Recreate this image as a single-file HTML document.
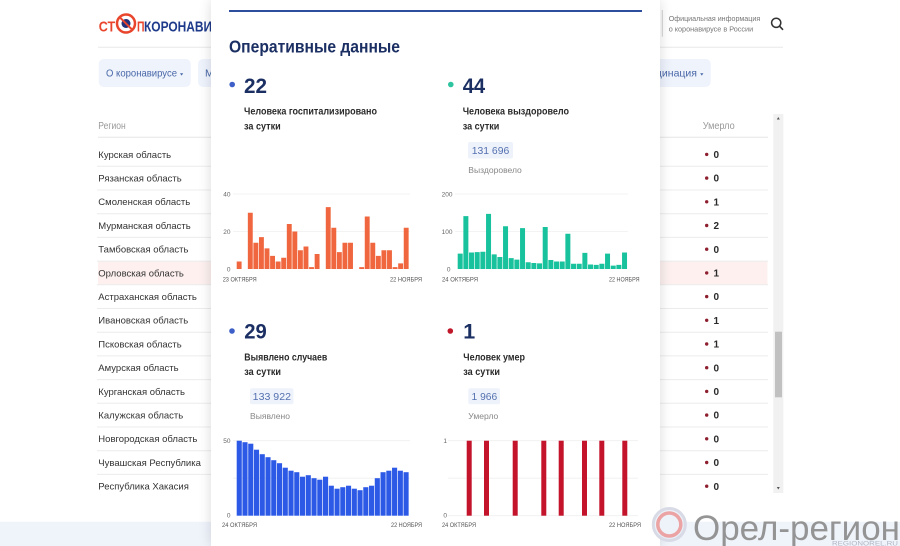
<!DOCTYPE html>
<html><head><meta charset="utf-8">
<style>
html,body{margin:0;padding:0;width:900px;height:546px;max-height:546px;overflow:hidden;background:#fff;font-family:"Liberation Sans",sans-serif}
#wrap{position:relative;width:900px;height:546px;overflow:hidden}
svg{position:absolute;left:0;top:0}
text{font-family:"Liberation Sans",sans-serif}
#modal{position:absolute;left:211px;top:0;width:449px;height:546px;background:#fff;box-shadow:0 0 12px rgba(0,0,0,0.14)}
</style></head><body><div id="wrap">
<svg width="900" height="546">
  <rect x="0" y="521.7" width="900" height="25" fill="#eff3fa"/>
  <text x="98.7" y="31.7" font-size="15" font-weight="bold" fill="#e8452c" textLength="16.5" lengthAdjust="spacingAndGlyphs">СТ</text>
  <circle cx="126" cy="23.5" r="9" fill="#fff" stroke="#e8452c" stroke-width="2.5"/>
  <circle cx="126" cy="23.5" r="4.5" fill="#24317a"/>
  <line x1="120" y1="17.5" x2="132" y2="29.5" stroke="#e8452c" stroke-width="2"/>
  <text x="137" y="31.7" font-size="15" font-weight="bold" fill="#e8452c" textLength="7.5" lengthAdjust="spacingAndGlyphs">П</text>
  <text x="144" y="31.7" font-size="15" font-weight="bold" fill="#1e3a8a" textLength="92" lengthAdjust="spacingAndGlyphs">КОРОНАВИРУС</text>
  <line x1="662.3" y1="10" x2="662.3" y2="36.7" stroke="#cfcfcf" stroke-width="1"/>
  <text x="668.7" y="21" font-size="7.6" fill="#777" textLength="91.5" lengthAdjust="spacingAndGlyphs">Официальная информация</text>
  <text x="668.7" y="31.5" font-size="7.6" fill="#777" textLength="84.5" lengthAdjust="spacingAndGlyphs">о коронавирусе в России</text>
  <circle cx="776.2" cy="22.8" r="4.6" fill="none" stroke="#333" stroke-width="1.5"/>
  <line x1="779.6" y1="26.2" x2="783" y2="29.8" stroke="#333" stroke-width="1.6"/>
  <line x1="98" y1="47.2" x2="783" y2="47.2" stroke="#e8e8e8" stroke-width="1"/>
  <rect x="98.7" y="59" width="92" height="28" rx="5" fill="#eef3fc"/>
  <text x="106" y="76.4" font-size="10.5" fill="#4a68a8" textLength="71" lengthAdjust="spacingAndGlyphs">О коронавирусе</text>
  <polygon points="180,73.3 183.2,73.3 181.6,75.6" fill="#4a68a8"/>
  <rect x="198" y="59" width="100" height="28" rx="5" fill="#eef3fc"/>
  <text x="205" y="76.4" font-size="10.5" fill="#4a68a8">М</text>
  <rect x="600" y="59" width="110.7" height="28" rx="5" fill="#eef3fc"/>
  <text x="697" y="76.4" font-size="10.5" fill="#4a68a8" text-anchor="end">Вакцинация</text>
  <polygon points="700.2,73.3 703.4,73.3 701.8,75.6" fill="#4a68a8"/>
  <text x="98.3" y="129" font-size="10" fill="#999" textLength="27.4" lengthAdjust="spacingAndGlyphs">Регион</text>
  <text x="702.7" y="129" font-size="10" fill="#999" textLength="32" lengthAdjust="spacingAndGlyphs">Умерло</text>
  <line x1="98" y1="137.3" x2="768" y2="137.3" stroke="#e6e6e6"/>
  <rect x="98" y="261.1" width="669.5" height="23.7" fill="#fdf0ef"/>
  <g stroke="#ececec" stroke-width="1">
    <line x1="97" y1="166.3" x2="768" y2="166.3"/>
    <line x1="97" y1="190" x2="768" y2="190"/>
    <line x1="97" y1="213.7" x2="768" y2="213.7"/>
    <line x1="97" y1="237.4" x2="768" y2="237.4"/>
    <line x1="97" y1="261.1" x2="768" y2="261.1"/>
    <line x1="97" y1="284.8" x2="768" y2="284.8"/>
    <line x1="97" y1="308.5" x2="768" y2="308.5"/>
    <line x1="97" y1="332.2" x2="768" y2="332.2"/>
    <line x1="97" y1="355.9" x2="768" y2="355.9"/>
    <line x1="97" y1="379.6" x2="768" y2="379.6"/>
    <line x1="97" y1="403.3" x2="768" y2="403.3"/>
    <line x1="97" y1="427" x2="768" y2="427"/>
    <line x1="97" y1="450.7" x2="768" y2="450.7"/>
    <line x1="97" y1="474.4" x2="768" y2="474.4"/>
  </g>
  <g font-size="9.5" fill="#333">
    <text x="98.3" y="157.8">Курская область</text>
    <text x="98.3" y="181.5">Рязанская область</text>
    <text x="98.3" y="205.2">Смоленская область</text>
    <text x="98.3" y="228.9">Мурманская область</text>
    <text x="98.3" y="252.6">Тамбовская область</text>
    <text x="98.3" y="276.3">Орловская область</text>
    <text x="98.3" y="300">Астраханская область</text>
    <text x="98.3" y="323.7">Ивановская область</text>
    <text x="98.3" y="347.4">Псковская область</text>
    <text x="98.3" y="371.1">Амурская область</text>
    <text x="98.3" y="394.8">Курганская область</text>
    <text x="98.3" y="418.5">Калужская область</text>
    <text x="98.3" y="442.2">Новгородская область</text>
    <text x="98.3" y="465.9">Чувашская Республика</text>
    <text x="98.3" y="489.6">Республика Хакасия</text>
  </g>
  <g fill="#8e1f2f">
    <circle cx="706.7" cy="154.4" r="1.7"/><circle cx="706.7" cy="178.1" r="1.7"/><circle cx="706.7" cy="201.8" r="1.7"/>
    <circle cx="706.7" cy="225.5" r="1.7"/><circle cx="706.7" cy="249.2" r="1.7"/><circle cx="706.7" cy="272.9" r="1.7"/>
    <circle cx="706.7" cy="296.6" r="1.7"/><circle cx="706.7" cy="320.3" r="1.7"/><circle cx="706.7" cy="344" r="1.7"/>
    <circle cx="706.7" cy="367.7" r="1.7"/><circle cx="706.7" cy="391.4" r="1.7"/><circle cx="706.7" cy="415.1" r="1.7"/>
    <circle cx="706.7" cy="438.8" r="1.7"/><circle cx="706.7" cy="462.5" r="1.7"/><circle cx="706.7" cy="486.2" r="1.7"/>
  </g>
  <g font-size="10" font-weight="bold" fill="#2a2a2a">
    <text x="713.5" y="158">0</text><text x="713.5" y="181.7">0</text><text x="713.5" y="205.4">1</text>
    <text x="713.5" y="229.1">2</text><text x="713.5" y="252.8">0</text><text x="713.5" y="276.5">1</text>
    <text x="713.5" y="300.2">0</text><text x="713.5" y="323.9">1</text><text x="713.5" y="347.6">1</text>
    <text x="713.5" y="371.3">0</text><text x="713.5" y="395">0</text><text x="713.5" y="418.7">0</text>
    <text x="713.5" y="442.4">0</text><text x="713.5" y="466.1">0</text><text x="713.5" y="489.8">0</text>
  </g>
  <rect x="773.3" y="114" width="10" height="379" fill="#f1f1f1"/>
  <rect x="775" y="331.7" width="7" height="65.6" fill="#c1c1c1"/>
  <polygon points="776.8,119.5 779.8,119.5 778.3,117" fill="#555"/>
  <polygon points="776.8,487 779.8,487 778.3,489.5" fill="#555"/>
</svg>

<div id="modal"></div>

<svg width="900" height="546">
  <rect x="229" y="10" width="413" height="2" fill="#2d4e9c"/>
  <text x="229" y="52.7" font-size="17.5" font-weight="bold" fill="#1b2f63" textLength="171" lengthAdjust="spacingAndGlyphs">Оперативные данные</text>

  <circle cx="232.2" cy="84.5" r="2.8" fill="#3d5fc7"/>
  <text x="244" y="93" font-size="21.5" font-weight="bold" fill="#1b2f63" textLength="23" lengthAdjust="spacingAndGlyphs">22</text>
  <text x="244" y="114.5" font-size="10" font-weight="bold" fill="#2a2a2a" textLength="133" lengthAdjust="spacingAndGlyphs">Человека госпитализировано</text>
  <text x="244" y="129.4" font-size="10" font-weight="bold" fill="#2a2a2a" textLength="36.7" lengthAdjust="spacingAndGlyphs">за сутки</text>

  <circle cx="450.8" cy="84.5" r="2.8" fill="#2ec4a0"/>
  <text x="462.7" y="93" font-size="21.5" font-weight="bold" fill="#1b2f63" textLength="22.5" lengthAdjust="spacingAndGlyphs">44</text>
  <text x="462.7" y="114.5" font-size="10" font-weight="bold" fill="#2a2a2a" textLength="106.3" lengthAdjust="spacingAndGlyphs">Человека выздоровело</text>
  <text x="462.7" y="129.4" font-size="10" font-weight="bold" fill="#2a2a2a" textLength="36.7" lengthAdjust="spacingAndGlyphs">за сутки</text>
  <rect x="468" y="142" width="45" height="16.5" rx="2" fill="#eef3fb"/>
  <text x="471.7" y="153.8" font-size="10.5" fill="#5470b0" textLength="37.6" lengthAdjust="spacingAndGlyphs">131 696</text>
  <text x="468.3" y="173" font-size="8.5" fill="#888" textLength="53.5" lengthAdjust="spacingAndGlyphs">Выздоровело</text>

  <g stroke="#efefef" stroke-width="0.8">
    <line x1="233" y1="194" x2="410" y2="194"/>
    <line x1="233" y1="231.5" x2="410" y2="231.5"/>
  </g>
  <g font-size="6.5" fill="#666" text-anchor="end">
    <text x="230.5" y="196.5">40</text>
    <text x="230.5" y="234">20</text>
    <text x="230.5" y="271.5">0</text>
  </g>
  <g font-size="6.5" fill="#555">
    <text x="222.7" y="281.5" textLength="34" lengthAdjust="spacingAndGlyphs">23 ОКТЯБРЯ</text>
    <text x="390" y="281.5" textLength="32" lengthAdjust="spacingAndGlyphs">22 НОЯБРЯ</text>
  </g>
  <g fill="#f0673f">
    <rect x="236.7" y="261.5" width="4.9" height="7.5"/>
    <rect x="247.84" y="212.75" width="4.9" height="56.25"/>
    <rect x="253.4" y="242.75" width="4.9" height="26.25"/>
    <rect x="258.97" y="237.12" width="4.9" height="31.88"/>
    <rect x="264.54" y="248.37" width="4.9" height="20.63"/>
    <rect x="270.11" y="255.87" width="4.9" height="13.13"/>
    <rect x="275.68" y="261.5" width="4.9" height="7.5"/>
    <rect x="281.24" y="257.75" width="4.9" height="11.25"/>
    <rect x="286.81" y="224" width="4.9" height="45"/>
    <rect x="292.38" y="231.5" width="4.9" height="37.5"/>
    <rect x="297.95" y="250.25" width="4.9" height="18.75"/>
    <rect x="303.52" y="246.5" width="4.9" height="22.5"/>
    <rect x="309.08" y="267.12" width="4.9" height="1.88"/>
    <rect x="314.65" y="254" width="4.9" height="15"/>
    <rect x="325.79" y="207.12" width="4.9" height="61.88"/>
    <rect x="331.36" y="227.75" width="4.9" height="41.25"/>
    <rect x="336.92" y="252.12" width="4.9" height="16.88"/>
    <rect x="342.49" y="242.75" width="4.9" height="26.25"/>
    <rect x="348.06" y="242.75" width="4.9" height="26.25"/>
    <rect x="359.2" y="267.12" width="4.9" height="1.88"/>
    <rect x="364.76" y="216.5" width="4.9" height="52.5"/>
    <rect x="370.33" y="242.75" width="4.9" height="26.25"/>
    <rect x="375.9" y="255.87" width="4.9" height="13.13"/>
    <rect x="381.47" y="250.25" width="4.9" height="18.75"/>
    <rect x="387.04" y="250.25" width="4.9" height="18.75"/>
    <rect x="392.6" y="267.12" width="4.9" height="1.88"/>
    <rect x="398.17" y="263.37" width="4.9" height="5.63"/>
    <rect x="403.74" y="227.75" width="4.9" height="41.25"/>
  </g>

  <g stroke="#efefef" stroke-width="0.8">
    <line x1="455" y1="194" x2="628" y2="194"/>
    <line x1="455" y1="231.5" x2="628" y2="231.5"/>
  </g>
  <g font-size="6.5" fill="#666" text-anchor="end">
    <text x="452.5" y="196.5">200</text>
    <text x="452.5" y="234">100</text>
    <text x="450.5" y="271.5">0</text>
  </g>
  <g font-size="6.5" fill="#555">
    <text x="442" y="281.5" textLength="36" lengthAdjust="spacingAndGlyphs">24 ОКТЯБРЯ</text>
    <text x="609" y="281.5" textLength="30.5" lengthAdjust="spacingAndGlyphs">22 НОЯБРЯ</text>
  </g>
  <g fill="#18c29c">
    <rect x="457.7" y="253.62" width="5" height="15.38"/>
    <rect x="463.37" y="216.12" width="5" height="52.88"/>
    <rect x="469.03" y="252.5" width="5" height="16.5"/>
    <rect x="474.7" y="252.12" width="5" height="16.88"/>
    <rect x="480.37" y="251.75" width="5" height="17.25"/>
    <rect x="486.04" y="213.87" width="5" height="55.13"/>
    <rect x="491.7" y="254.37" width="5" height="14.63"/>
    <rect x="497.37" y="257" width="5" height="12"/>
    <rect x="503.04" y="226.25" width="5" height="42.75"/>
    <rect x="508.7" y="258.12" width="5" height="10.88"/>
    <rect x="514.37" y="259.62" width="5" height="9.38"/>
    <rect x="520.04" y="228.12" width="5" height="40.88"/>
    <rect x="525.7" y="262.25" width="5" height="6.75"/>
    <rect x="531.37" y="263" width="5" height="6"/>
    <rect x="537.04" y="263.37" width="5" height="5.63"/>
    <rect x="542.71" y="227" width="5" height="42"/>
    <rect x="548.37" y="260" width="5" height="9"/>
    <rect x="554.04" y="261.5" width="5" height="7.5"/>
    <rect x="559.71" y="261.5" width="5" height="7.5"/>
    <rect x="565.37" y="233.75" width="5" height="35.25"/>
    <rect x="571.04" y="263.75" width="5" height="5.25"/>
    <rect x="576.71" y="263.75" width="5" height="5.25"/>
    <rect x="582.37" y="252.87" width="5" height="16.13"/>
    <rect x="588.04" y="264.5" width="5" height="4.5"/>
    <rect x="593.71" y="264.87" width="5" height="4.13"/>
    <rect x="599.38" y="263.75" width="5" height="5.25"/>
    <rect x="605.04" y="253.62" width="5" height="15.38"/>
    <rect x="610.71" y="265.62" width="5" height="3.38"/>
    <rect x="616.38" y="264.87" width="5" height="4.13"/>
    <rect x="622.04" y="252.5" width="5" height="16.5"/>
  </g>

  <circle cx="232" cy="331" r="2.8" fill="#3d5fc7"/>
  <text x="244.3" y="338.3" font-size="21.5" font-weight="bold" fill="#1b2f63" textLength="22.5" lengthAdjust="spacingAndGlyphs">29</text>
  <text x="244.3" y="360.3" font-size="10" font-weight="bold" fill="#2a2a2a" textLength="83" lengthAdjust="spacingAndGlyphs">Выявлено случаев</text>
  <text x="244.3" y="375" font-size="10" font-weight="bold" fill="#2a2a2a" textLength="36.7" lengthAdjust="spacingAndGlyphs">за сутки</text>
  <rect x="250" y="388.3" width="43.5" height="16" rx="2" fill="#eef3fb"/>
  <text x="252.7" y="400" font-size="10.5" fill="#5470b0" textLength="38.3" lengthAdjust="spacingAndGlyphs">133 922</text>
  <text x="250" y="419" font-size="8.5" fill="#888" textLength="40" lengthAdjust="spacingAndGlyphs">Выявлено</text>

  <circle cx="450.3" cy="331" r="2.8" fill="#c0182a"/>
  <text x="463.3" y="338.3" font-size="21.5" font-weight="bold" fill="#1b2f63">1</text>
  <text x="463.3" y="360.3" font-size="10" font-weight="bold" fill="#2a2a2a" textLength="61.7" lengthAdjust="spacingAndGlyphs">Человек умер</text>
  <text x="463.3" y="375" font-size="10" font-weight="bold" fill="#2a2a2a" textLength="36.7" lengthAdjust="spacingAndGlyphs">за сутки</text>
  <rect x="468.3" y="388.3" width="31.7" height="16" rx="2" fill="#eef3fb"/>
  <text x="471.5" y="400" font-size="10.5" fill="#5470b0" textLength="25.7" lengthAdjust="spacingAndGlyphs">1 966</text>
  <text x="468.3" y="419" font-size="8.5" fill="#888" textLength="30" lengthAdjust="spacingAndGlyphs">Умерло</text>

  <g stroke="#efefef" stroke-width="0.8">
    <line x1="233" y1="440.7" x2="410" y2="440.7"/>
    <line x1="233" y1="478.2" x2="410" y2="478.2"/>
  </g>
  <g font-size="6.5" fill="#666" text-anchor="end">
    <text x="230.5" y="443">50</text>
    <text x="230.5" y="517.5">0</text>
  </g>
  <g font-size="6.5" fill="#555">
    <text x="222" y="527" textLength="35" lengthAdjust="spacingAndGlyphs">24 ОКТЯБРЯ</text>
    <text x="391" y="527" textLength="31" lengthAdjust="spacingAndGlyphs">22 НОЯБРЯ</text>
  </g>
  <g fill="#2c5ae6">
    <rect x="236.7" y="440.7" width="5.1" height="75"/>
    <rect x="242.45" y="442.2" width="5.1" height="73.5"/>
    <rect x="248.21" y="443.7" width="5.1" height="72"/>
    <rect x="253.96" y="449.7" width="5.1" height="66"/>
    <rect x="259.71" y="454.2" width="5.1" height="61.5"/>
    <rect x="265.47" y="457.2" width="5.1" height="58.5"/>
    <rect x="271.22" y="460.2" width="5.1" height="55.5"/>
    <rect x="276.97" y="463.2" width="5.1" height="52.5"/>
    <rect x="282.72" y="467.7" width="5.1" height="48"/>
    <rect x="288.48" y="470.7" width="5.1" height="45"/>
    <rect x="294.23" y="472.2" width="5.1" height="43.5"/>
    <rect x="299.98" y="476.7" width="5.1" height="39"/>
    <rect x="305.74" y="475.2" width="5.1" height="40.5"/>
    <rect x="311.49" y="478.2" width="5.1" height="37.5"/>
    <rect x="317.24" y="479.7" width="5.1" height="36"/>
    <rect x="323" y="476.7" width="5.1" height="39"/>
    <rect x="328.75" y="485.7" width="5.1" height="30"/>
    <rect x="334.5" y="488.7" width="5.1" height="27"/>
    <rect x="340.25" y="487.2" width="5.1" height="28.5"/>
    <rect x="346.01" y="485.7" width="5.1" height="30"/>
    <rect x="351.76" y="488.7" width="5.1" height="27"/>
    <rect x="357.51" y="490.2" width="5.1" height="25.5"/>
    <rect x="363.27" y="487.2" width="5.1" height="28.5"/>
    <rect x="369.02" y="485.7" width="5.1" height="30"/>
    <rect x="374.77" y="478.2" width="5.1" height="37.5"/>
    <rect x="380.53" y="472.2" width="5.1" height="43.5"/>
    <rect x="386.28" y="470.7" width="5.1" height="45"/>
    <rect x="392.03" y="467.7" width="5.1" height="48"/>
    <rect x="397.79" y="470.7" width="5.1" height="45"/>
    <rect x="403.54" y="472.2" width="5.1" height="43.5"/>
  </g>

  <g stroke="#efefef" stroke-width="0.8">
    <line x1="448" y1="440.7" x2="638" y2="440.7"/>
    <line x1="448" y1="478.2" x2="638" y2="478.2"/>
    <line x1="448" y1="515.7" x2="638" y2="515.7"/>
  </g>
  <g font-size="6.5" fill="#666" text-anchor="end">
    <text x="447" y="443">1</text>
    <text x="447" y="517.5">0</text>
  </g>
  <g font-size="6.5" fill="#555">
    <text x="442" y="527" textLength="34" lengthAdjust="spacingAndGlyphs">24 ОКТЯБРЯ</text>
    <text x="609" y="527" textLength="32" lengthAdjust="spacingAndGlyphs">22 НОЯБРЯ</text>
  </g>
  <g fill="#c3142c">
    <rect x="466.7" y="440.7" width="5" height="75"/>
    <rect x="484" y="440.7" width="5" height="75"/>
    <rect x="512.7" y="440.7" width="5" height="75"/>
    <rect x="541.3" y="440.7" width="5" height="75"/>
    <rect x="558.7" y="440.7" width="5" height="75"/>
    <rect x="582" y="440.7" width="5" height="75"/>
    <rect x="599.3" y="440.7" width="5" height="75"/>
    <rect x="622.3" y="440.7" width="5" height="75"/>
  </g>

  <circle cx="669.3" cy="524.5" r="16" fill="#e6edf8" fill-opacity="0.7" stroke="#d8dbe6" stroke-width="3"/>
  <circle cx="669.3" cy="524.5" r="11.5" fill="#eef2f9" stroke="#eba3a3" stroke-width="3.5"/>
  <text x="693" y="540" font-size="35" fill="#8a8a8a" fill-opacity="0.9" textLength="207" lengthAdjust="spacingAndGlyphs">Орел-регион</text>
  <text x="832" y="545.5" font-size="6.5" fill="#b0b6c4" textLength="66" lengthAdjust="spacingAndGlyphs">REGIONOREL.RU</text>
</svg>
</div></body></html>
